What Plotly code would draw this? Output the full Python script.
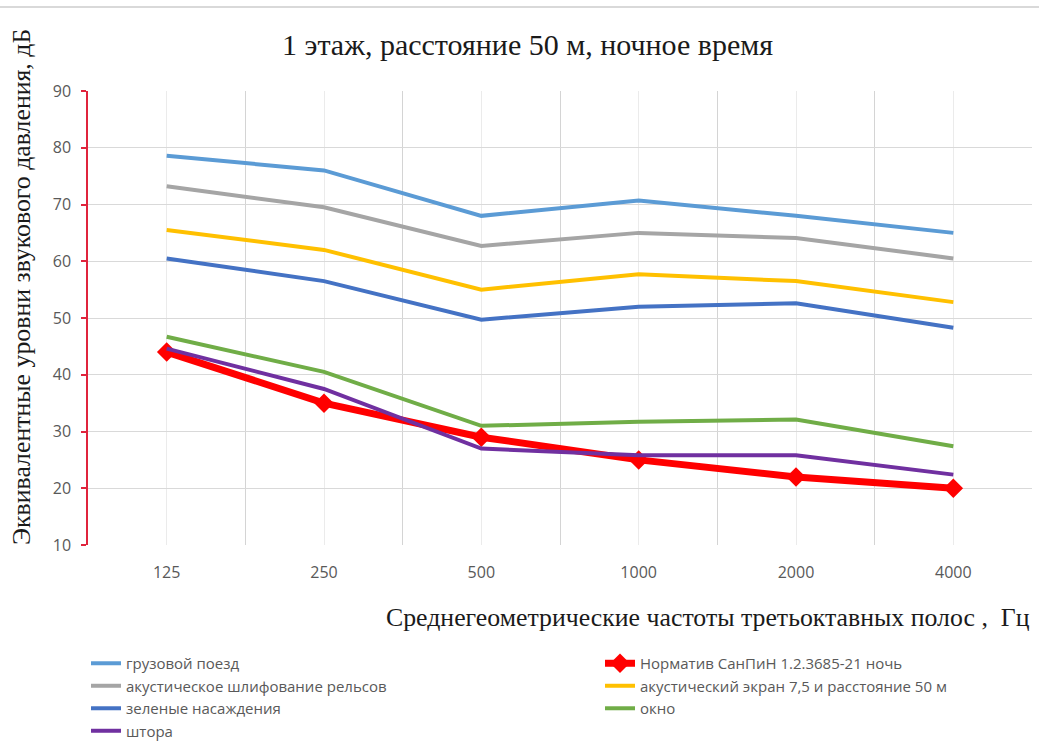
import plotly.graph_objects as go

# Third-octave band centre frequencies, Hz
freqs = ["125", "250", "500", "1000", "2000", "4000"]

# Equivalent sound pressure levels, dB
gruzovoy_poezd = [78.6, 76.0, 68.0, 70.7, 68.0, 65.0]
normativ = [44, 35, 29, 25, 22, 20]
shlifovanie = [73.2, 69.5, 62.7, 65.0, 64.1, 60.5]
ekran = [65.5, 62.0, 55.0, 57.7, 56.5, 52.8]
nasazhdeniya = [60.5, 56.5, 49.7, 52.0, 52.6, 48.3]
okno = [46.7, 40.5, 31.0, 31.7, 32.1, 27.4]
shtora = [44.6, 37.5, 27.0, 25.8, 25.8, 22.4]

yticks = [10, 20, 30, 40, 50, 60, 70, 80, 90]

x = list(range(len(freqs)))

series = [
    ("грузовой поезд", gruzovoy_poezd, "#5B9BD5", "legend"),
    ("Норматив СанПиН 1.2.3685-21 ночь", normativ, "#FF0000", "legend2"),
    ("акустическое шлифование рельсов", shlifovanie, "#A5A5A5", "legend"),
    ("акустический экран 7,5 и расстояние 50 м", ekran, "#FFC000", "legend2"),
    ("зеленые насаждения", nasazhdeniya, "#4472C4", "legend"),
    ("окно", okno, "#70AD47", "legend2"),
    ("штора", shtora, "#7030A0", "legend"),
]

fig = go.Figure()
for name, vals, color, leg in series:
    if name.startswith("Норматив"):
        fig.add_trace(go.Scatter(
            x=x, y=vals, name=name, mode="lines+markers",
            line=dict(color=color, width=7),
            marker=dict(symbol="diamond", size=15, color=color),
            legend=leg,
        ))
    else:
        fig.add_trace(go.Scatter(
            x=x, y=vals, name=name, mode="lines",
            line=dict(color=color, width=4),
            legend=leg,
        ))

tick_font = dict(family="Open Sans, Liberation Sans, sans-serif", size=16, color="#595959")
legend_font = dict(family="Open Sans, sans-serif", size=15, color="#595959")
serif = "Liberation Serif, Times New Roman, serif"

fig.update_layout(
    width=1039, height=741,
    margin=dict(l=88, r=7, t=91, b=196, autoexpand=False),
    paper_bgcolor="white", plot_bgcolor="white",
    showlegend=True,
    xaxis=dict(
        range=[-0.5, len(freqs) - 0.5],
        tickmode="array", tickvals=x, ticktext=freqs,
        showgrid=True, gridcolor="#EBEBEB", gridwidth=1,
        minor=dict(tick0=0.5, dtick=1, showgrid=True, gridcolor="#D4D4D4", gridwidth=1),
        zeroline=False, showline=False, ticks="",
        tickfont=tick_font, ticklabelstandoff=16,
    ),
    yaxis=dict(
        range=[10, 90], tickmode="array", tickvals=yticks,
        showgrid=True, gridcolor="#D9D9D9", gridwidth=1,
        zeroline=False,
        showline=True, linecolor="#E0243C", linewidth=1.5,
        ticks="outside", tickcolor="#E0243C", ticklen=5, tickwidth=1.5,
        tickfont=tick_font, ticklabelstandoff=7,
    ),
    legend=dict(
        x=-0.0021, y=-0.2247, xanchor="left", yanchor="top",
        orientation="v", font=legend_font,
        tracegroupgap=0, itemwidth=30, bgcolor="rgba(0,0,0,0)",
    ),
    legend2=dict(
        x=0.5424, y=-0.2247, xanchor="left", yanchor="top",
        orientation="v", font=legend_font,
        tracegroupgap=0, itemwidth=30, bgcolor="rgba(0,0,0,0)",
    ),
    annotations=[
        dict(text="1 этаж, расстояние 50 м, ночное время",
             xref="paper", yref="paper", x=0.466, y=1.0, yshift=47,
             xanchor="center", yanchor="middle", showarrow=False,
             font=dict(family=serif, size=30, color="#1a1a1a")),
        dict(text="Эквивалентные уровни звукового давления, дБ",
             xref="paper", yref="paper", x=0, xshift=-67, y=0.5, yshift=31,
             xanchor="center", yanchor="middle", textangle=-90, showarrow=False,
             font=dict(family=serif, size=25.8, color="#1a1a1a")),
        dict(text="Среднегеометрические частоты третьоктавных полос ,  Гц",
             xref="paper", yref="paper", x=1.0, xshift=0, y=0, yshift=-72,
             xanchor="right", yanchor="middle", showarrow=False,
             font=dict(family=serif, size=25.8, color="#1a1a1a")),
    ],
    shapes=[
        dict(type="line", xref="paper", yref="paper", x0=-0.1, x1=1.1,
             y0=1.185, y1=1.185, line=dict(color="#D9D9D9", width=2)),
    ],
)

fig.write_html("out.html")
